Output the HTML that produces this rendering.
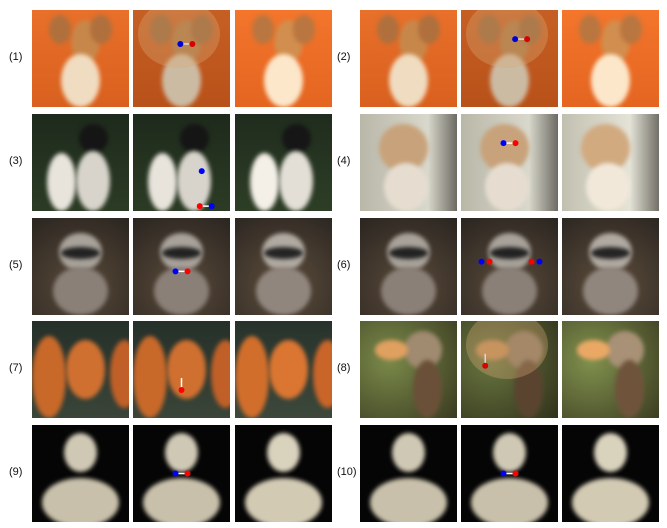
<!DOCTYPE html>
<html><head><meta charset="utf-8"><style>
body{margin:0;width:667px;height:528px;background:#fff;position:relative;overflow:hidden;font-family:"Liberation Sans",sans-serif}
.lbl{position:absolute;font-size:11px;color:#111}
.img{position:absolute;width:97px;height:97px;overflow:hidden}
.sh{position:absolute;border-radius:50%}
</style></head><body>
<script>
const labels=["(1)","(2)","(3)","(4)","(5)","(6)","(7)","(8)","(9)","(10)"];
const rowsY=[10,114,218,321,425];
const colX=[[32,133,235],[360,461,562]];
const themes=[
 {bg:"linear-gradient(#e8702a,#d9601e)",parts:[["40%","10%","30%","45%","#c8874a"],["30%","45%","40%","55%","#f0dcc0"],["18%","5%","22%","30%","#b0703d"],["60%","5%","22%","30%","#b0703d"]]},
 {bg:"linear-gradient(#e8702a,#d9601e)",parts:[["40%","10%","30%","45%","#c8874a"],["30%","45%","40%","55%","#f0dcc0"],["18%","5%","22%","30%","#b0703d"],["60%","5%","22%","30%","#b0703d"]]},
 {bg:"linear-gradient(#1e2a1c,#2b3b24)",parts:[["15%","40%","30%","60%","#e8e4dc"],["48%","10%","30%","30%","#151515"],["45%","38%","35%","62%","#d8d4cc"]]},
 {bg:"linear-gradient(90deg,#b8b7a8,#d9d8cc 70%,#6c6a62)",parts:[["20%","10%","50%","50%","#c8a27a"],["25%","50%","45%","50%","#e6ddd0"]]},
 {bg:"radial-gradient(circle at 50% 70%,#5a4a3a,#2a2520)",parts:[["28%","15%","44%","40%","#a8a29a"],["22%","50%","56%","50%","#8a8078"],["30%","30%","40%","12%","#222"]]},
 {bg:"radial-gradient(circle at 50% 70%,#5a4a3a,#2a2520)",parts:[["28%","15%","44%","40%","#a8a29a"],["22%","50%","56%","50%","#8a8078"],["30%","30%","40%","12%","#222"]]},
 {bg:"linear-gradient(#25302a,#3a4538)",parts:[["0%","15%","35%","85%","#c8692a"],["35%","20%","40%","60%","#d07030"],["80%","20%","30%","70%","#c06028"]]},
 {bg:"radial-gradient(circle at 30% 40%,#7a8a4a,#3a3a20)",parts:[["45%","10%","40%","40%","#a08a70"],["55%","40%","30%","60%","#6a5038"],["15%","20%","35%","20%","#e0a060"]]},
 {bg:"#050505",parts:[["33%","8%","34%","40%","#cfc8b4"],["10%","55%","80%","50%","#c8c0aa"]]},
 {bg:"#050505",parts:[["33%","8%","34%","40%","#cfc8b4"],["10%","55%","80%","50%","#c8c0aa"]]}
];
const markers=[[1,0.55,0.35,"h"],[1,0.62,0.3,"h"],[1,0.75,0.95,"h3"],[1,0.5,0.3,"h"],[1,0.5,0.55,"h"],[1,0.5,0.45,"h2"],[1,0.5,0.65,"v"],[1,0.25,0.4,"v"],[1,0.5,0.5,"h"],[1,0.5,0.5,"h"]];
for(let i=0;i<10;i++){
 const r=Math.floor(i/2),c=i%2,y=rowsY[r];
 const l=document.createElement('div');l.className='lbl';
 
 
 l.textContent=labels[i];
 l.style.left=(c?337:9)+'px';l.style.top=(y+41)+'px';
 document.body.appendChild(l);
 for(let k=0;k<3;k++){
  const d=document.createElement('div');d.className='img';
  
  
  d.style.left=colX[c][k]+'px';d.style.top=y+'px';
  const t=themes[i];d.style.background=t.bg;
  if(k==2)d.style.filter='brightness(1.05)';
  t.parts.forEach(p=>{const s=document.createElement('div');s.className='sh';
   s.style.left=p[0];s.style.top=p[1];s.style.width=p[2];s.style.height=p[3];s.style.background=p[4];s.style.filter='blur(2px)';d.appendChild(s);});
  if(k==1){
   if(i<2||i==7){const m=document.createElement('div');m.className='sh';m.style.cssText='left:5%;top:-10%;width:85%;height:70%;background:rgba(255,200,140,0.35)';d.appendChild(m);
    d.style.filter='brightness(0.85)';}
   const mk=markers[i];
   if(mk[0]){
    const sv=document.createElementNS('http://www.w3.org/2000/svg','svg');
    
    
    sv.setAttribute('width','97');sv.setAttribute('height','97');sv.style.position='absolute';sv.style.left=0;sv.style.top=0;
    const x=mk[1]*97,yy=mk[2]*97;
    let h='';
    if(mk[3]=='h')h=`<line x1="${x+6}" y1="${yy}" x2="${x-6}" y2="${yy}" stroke="#fff" stroke-width="1.5"/><circle cx="${x+6}" cy="${yy}" r="3" fill="red"/><circle cx="${x-6}" cy="${yy}" r="3" fill="blue"/>`;
    else if(mk[3]=='h3')h=`<line x1="${x-6}" y1="${yy}" x2="${x+6}" y2="${yy}" stroke="#fff" stroke-width="1.5"/><circle cx="${x-6}" cy="${yy}" r="3" fill="red"/><circle cx="${x+6}" cy="${yy}" r="3" fill="blue"/><circle cx="${x-4}" cy="${yy-35}" r="3" fill="blue"/>`;
    else if(mk[3]=='v')h=`<line x1="${x}" y1="${yy+6}" x2="${x}" y2="${yy-6}" stroke="#fff" stroke-width="1.5"/><circle cx="${x}" cy="${yy+6}" r="3" fill="red"/>`;
    else h=`<circle cx="${x-20}" cy="${yy}" r="3" fill="red"/><circle cx="${x-28}" cy="${yy}" r="3" fill="blue"/><circle cx="${x+22}" cy="${yy}" r="3" fill="red"/><circle cx="${x+30}" cy="${yy}" r="3" fill="blue"/>`;
    sv.innerHTML=h;d.appendChild(sv);
   }
  }
  document.body.appendChild(d);
 }
}
</script>
</body></html>
